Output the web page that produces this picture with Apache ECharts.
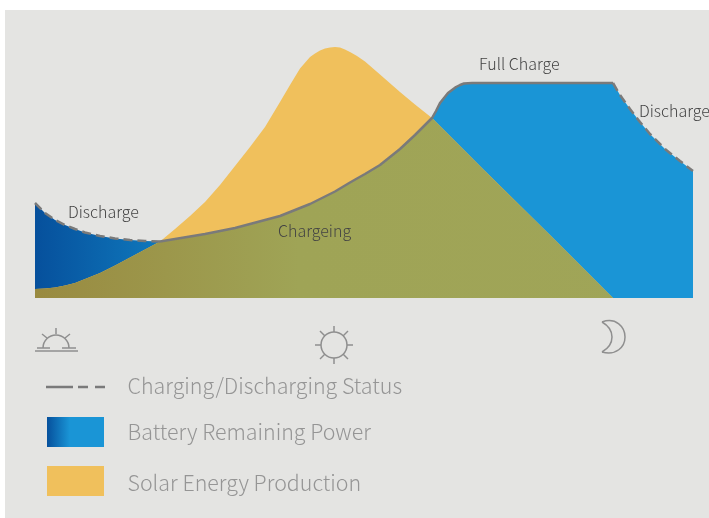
<!DOCTYPE html>
<html>
<head>
<meta charset="utf-8">
<style>
  html, body { margin: 0; padding: 0; background: #fff; }
  #chart { width: 709px; height: 518px; }
</style>
</head>
<body>
<div id="chart"></div>
<script src="https://cdn.jsdelivr.net/npm/echarts@6/dist/echarts.min.js"></script>
<script>
// horizontal position along the day
var positions = [0, 10, 20, 30, 40, 50, 65, 80, 95, 110, 125,
    140, 155, 170, 185, 200, 215, 230, 245,
    255, 265, 275, 280, 285, 290, 295, 300, 305, 310, 315,
    322, 330, 345, 365, 380, 397,
    401, 405, 409, 413, 417, 421, 425, 429,
    437, 450, 515, 565, 578,
    585, 595, 605, 615, 630, 645, 658];
var batteryPower = [95, 85, 78, 73, 69, 65.5, 62, 59.5, 58, 57, 56.5,
    59, 61.5, 64, 67, 70, 74, 78, 82,
    86, 90, 94, 96.5, 99, 101.5, 104, 106.5, 109.5, 112.5, 115.5,
    119.5, 124, 133, 149, 163, 180,
    187, 195, 200, 205, 208, 211, 213, 214.5,
    215, 215, 215, 215, 215,
    203, 189, 176, 164, 149, 137, 127];
var solarEnergy = [9, 9.5, 10.5, 12.5, 15, 19, 25, 32.5, 40.5, 48.5, 56.5,
    69, 82, 96, 113, 132, 151, 171, 196,
    213, 229.5, 241, 244.5, 247.5, 249.5, 250.5, 251, 250.5, 248.5, 246,
    242, 236.5, 223.5, 206, 193.5, 180,
    176, 172, 168, 164, 160, 156, 152, 148,
    140, 127, 63, 13, 0,
    0, 0, 0, 0, 0, 0, 0];
var legendLabels = ['Charging/Discharging Status', 'Battery Remaining Power', 'Solar Energy Production'];
var dischargeEnd = 10;   // index where the morning discharge stops
var chargeEnd = 48;      // index where the evening discharge starts

var FONT = '"Noto Sans CJK SC", "Noto Sans", sans-serif';
var STATUS = '#7a7a7a';

function pairs(values, from, to) {
    var out = [];
    for (var i = from; i <= to; i++) {
        out.push([positions[i], values[i]]);
    }
    return out;
}

// part where the sun and the battery overlap
var overlap = batteryPower.map(function (v, i) {
    return Math.min(v, solarEnergy[i]);
});

function grad(stops) {
    return new echarts.graphic.LinearGradient(0, 0, 1, 0, stops);
}

function areaSeries(values, color, z) {
    return {
        type: 'line',
        data: pairs(values, 0, positions.length - 1),
        showSymbol: false,
        silent: true,
        z: z,
        lineStyle: {width: 0},
        areaStyle: {color: color, opacity: 1}
    };
}

function statusSeries(from, to, type) {
    return {
        type: 'line',
        data: pairs(batteryPower, from, to),
        showSymbol: false,
        silent: true,
        z: 5,
        lineStyle: {color: STATUS, width: 2.5, type: type}
    };
}

function label(text, x, y) {
    return {
        type: 'text', z: 100, x: x, y: y,
        style: {text: text, fill: '#444', font: '300 16px ' + FONT, textVerticalAlign: 'middle'}
    };
}

function legendText(text, y) {
    return {
        type: 'text', z: 100, x: 127.5, y: y,
        style: {text: text, fill: '#959595', font: '300 21.4px ' + FONT, textVerticalAlign: 'middle'}
    };
}

function stroke(shape, type) {
    return {
        type: type || 'line', z: 100, shape: shape,
        style: {stroke: '#8f8f8f', lineWidth: 1.5, fill: 'none'}
    };
}

function curve(x1, y1, cpx1, cpy1, cpx2, cpy2, x2, y2) {
    return stroke({x1: x1, y1: y1, cpx1: cpx1, cpy1: cpy1, cpx2: cpx2, cpy2: cpy2, x2: x2, y2: y2}, 'bezierCurve');
}

var icons = [
    // sunrise
    stroke({x1: 35, y1: 351, x2: 78, y2: 351}),
    stroke({x1: 37, y1: 348, x2: 50, y2: 348}),
    stroke({x1: 62, y1: 348, x2: 76, y2: 348}),
    stroke({cx: 56, cy: 348, r: 13, startAngle: Math.PI, endAngle: 2 * Math.PI}, 'arc'),
    stroke({x1: 56, y1: 328, x2: 56, y2: 334}),
    stroke({x1: 42, y1: 334, x2: 47, y2: 338}),
    stroke({x1: 70, y1: 334, x2: 65, y2: 338}),
    // sun
    stroke({cx: 334, cy: 345, r: 13}, 'circle'),
    stroke({x1: 334, y1: 326, x2: 334, y2: 332}),
    stroke({x1: 334, y1: 358, x2: 334, y2: 364}),
    stroke({x1: 315, y1: 345, x2: 321, y2: 345}),
    stroke({x1: 347, y1: 345, x2: 353, y2: 345}),
    stroke({x1: 320, y1: 331, x2: 325, y2: 336}),
    stroke({x1: 348, y1: 331, x2: 343, y2: 336}),
    stroke({x1: 320, y1: 359, x2: 325, y2: 354}),
    stroke({x1: 348, y1: 359, x2: 343, y2: 354}),
    // moon
    curve(602, 322, 616, 317, 625, 327, 625, 337),
    curve(625, 337, 625, 347, 616, 356, 602, 352),
    curve(602, 352, 609, 348, 612, 343, 612, 337),
    curve(612, 337, 612, 331, 609, 326, 602, 322)
];

var legendMarks = [
    {type: 'line', z: 100, shape: {x1: 46, y1: 387, x2: 73, y2: 387}, style: {stroke: STATUS, lineWidth: 2.5}},
    {type: 'line', z: 100, shape: {x1: 78, y1: 387, x2: 88, y2: 387}, style: {stroke: STATUS, lineWidth: 2.5}},
    {type: 'line', z: 100, shape: {x1: 95, y1: 387, x2: 105, y2: 387}, style: {stroke: STATUS, lineWidth: 2.5}},
    {
        type: 'rect', z: 100, shape: {x: 47, y: 417, width: 57, height: 30},
        style: {fill: grad([{offset: 0, color: '#06509c'}, {offset: 0.4, color: '#1a95d6'}, {offset: 1, color: '#1a95d6'}])}
    },
    {type: 'rect', z: 100, shape: {x: 47, y: 466, width: 57, height: 30}, style: {fill: '#f0c05c'}}
];

var chart = echarts.init(document.getElementById('chart'));
chart.setOption({
    animation: false,
    grid: {left: 35, right: 16, top: 38, bottom: 220},
    xAxis: {type: 'value', min: 0, max: 658, show: false},
    yAxis: {type: 'value', min: 0, max: 260, show: false},
    graphic: [
        {type: 'rect', z: 0, shape: {x: 5, y: 10, width: 704, height: 508}, style: {fill: '#e4e4e2'}},
        label('Discharge', 68, 212),
        label('Chargeing', 278, 231),
        label('Full Charge', 479, 64),
        label('Discharge', 639, 111),
        legendText(legendLabels[0], 386),
        legendText(legendLabels[1], 432),
        legendText(legendLabels[2], 483)
    ].concat(icons, legendMarks),
    series: [
        areaSeries(batteryPower, grad([
            {offset: 0, color: '#06509c'},
            {offset: 0.19, color: '#0f78bc'},
            {offset: 0.36, color: '#1a95d6'},
            {offset: 1, color: '#1a95d6'}
        ]), 2),
        areaSeries(solarEnergy, '#f0c05c', 3),
        areaSeries(overlap, grad([
            {offset: 0, color: '#998a40'},
            {offset: 0.4, color: '#9fa456'},
            {offset: 1, color: '#a0a558'}
        ]), 4),
        statusSeries(0, dischargeEnd, [9, 5]),
        statusSeries(dischargeEnd, chargeEnd, 'solid'),
        statusSeries(chargeEnd, positions.length - 1, [9, 5])
    ]
});
</script>
</body>
</html>
